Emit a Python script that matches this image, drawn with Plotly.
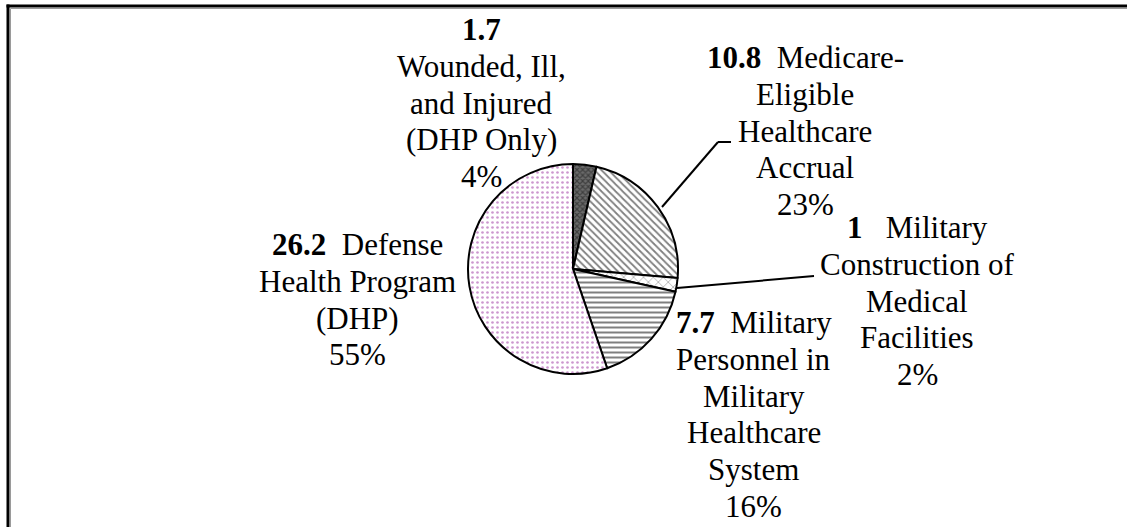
import plotly.graph_objects as go

# ---- data ----
values = [1.7, 10.8, 1.0, 7.7, 26.2]
value_labels = ["1.7", "10.8", "1", "7.7", "26.2"]
name_lines = [
    ["Wounded, Ill,", "and Injured", "(DHP Only)"],
    ["Medicare-", "Eligible", "Healthcare", "Accrual"],
    ["Military", "Construction of", "Medical", "Facilities"],
    ["Military", "Personnel in", "Military", "Healthcare", "System"],
    ["Defense", "Health Program", "(DHP)"],
]
# whether the first name word sits on the same line as the bold value
value_inline = [False, True, True, True, True]

# ---- styling / layout (pixels) ----
W, H = 1127, 527
FONT = "Liberation Serif, Times New Roman, serif"
FS = 31
LINE = 36.8

label_cx = [481, 805, 917, 754, 357]
label_first_baseline = [40, 68, 238, 333, 255]
gap = ["", "\u00a0\u00a0", "\u00a0\u00a0\u00a0", "\u00a0\u00a0", "\u00a0\u00a0"]

patterns = [
    dict(shape="x", fgcolor="#111111", bgcolor="#6a6a6a", size=4, solidity=0.5),
    dict(shape="\\", fgcolor="#000000", bgcolor="#ffffff", size=5, solidity=0.35),
    dict(shape="x", fgcolor="#000000", bgcolor="#ffffff", size=7, solidity=0.15),
    dict(shape="-", fgcolor="#000000", bgcolor="#ffffff", size=5, solidity=0.4),
    dict(shape=".", fgcolor="#9a309e", bgcolor="#ffffff", size=5, solidity=0.22),
]


def px(x):
    return x / W


def py(y):
    return 1 - y / H


fig = go.Figure()
fig.add_trace(go.Pie(
    values=values,
    labels=[" ".join(n) for n in name_lines],
    sort=False,
    direction="clockwise",
    rotation=0,
    textinfo="none",
    hoverinfo="label+value+percent",
    showlegend=False,
    domain=dict(x=[px(467), px(679)], y=[py(374), py(164)]),
    marker=dict(
        colors=[p["bgcolor"] for p in patterns],
        line=dict(color="#000000", width=2),
        pattern=dict(
            shape=[p["shape"] for p in patterns],
            fgcolor=[p["fgcolor"] for p in patterns],
            bgcolor=[p["bgcolor"] for p in patterns],
            size=[p["size"] for p in patterns],
            solidity=[p["solidity"] for p in patterns],
            fillmode="overlay",
        ),
    ),
))

total = sum(values)
annotations = []
for i, v in enumerate(values):
    pct = f"{round(v / total * 100)}%"
    lines = []
    if value_inline[i]:
        lines.append(f"<b>{value_labels[i]}</b>{gap[i]}{name_lines[i][0]}")
        lines += name_lines[i][1:]
    else:
        lines.append(f"<b>{value_labels[i]}</b>")
        lines += name_lines[i]
    lines.append(pct)
    for k, t in enumerate(lines):
        baseline = label_first_baseline[i] + k * LINE
        annotations.append(dict(
            x=px(label_cx[i]), y=py(baseline - 0.337 * FS),
            xref="paper", yref="paper", xanchor="center", yanchor="middle",
            text=t, showarrow=False, borderpad=0,
            font=dict(family=FONT, size=FS, color="#000000"),
        ))

shapes = []
# leader lines
leader_pts = [
    [(662, 207), (718, 142), (731, 142)],
    [(677, 288), (814, 276)],
]
for pts in leader_pts:
    for (x0, y0), (x1, y1) in zip(pts[:-1], pts[1:]):
        shapes.append(dict(type="line", xref="paper", yref="paper",
                           x0=px(x0), y0=py(y0), x1=px(x1), y1=py(y1),
                           line=dict(color="#000000", width=2)))
# frame
shapes.append(dict(type="line", xref="paper", yref="paper",
                   x0=px(10.5), y0=py(8.5), x1=px(W), y1=py(8.5),
                   line=dict(color="#9a9a9a", width=1)))
shapes.append(dict(type="line", xref="paper", yref="paper",
                   x0=px(10.5), y0=py(8.5), x1=px(10.5), y1=py(H),
                   line=dict(color="#9a9a9a", width=1)))
shapes.append(dict(type="line", xref="paper", yref="paper",
                   x0=px(6.5), y0=py(6), x1=px(W), y1=py(6),
                   line=dict(color="#000000", width=3)))
shapes.append(dict(type="line", xref="paper", yref="paper",
                   x0=px(8), y0=py(4.5), x1=px(8), y1=py(H),
                   line=dict(color="#000000", width=3)))

fig.update_layout(
    width=W, height=H,
    margin=dict(l=0, r=0, t=0, b=0),
    paper_bgcolor="#ffffff", plot_bgcolor="#ffffff",
    annotations=annotations,
    shapes=shapes,
    showlegend=False,
)

fig.write_html(
    "out.html",
    config={"displayModeBar": False},
    post_script="document.body.style.margin='0';document.body.style.overflow='hidden';",
)
